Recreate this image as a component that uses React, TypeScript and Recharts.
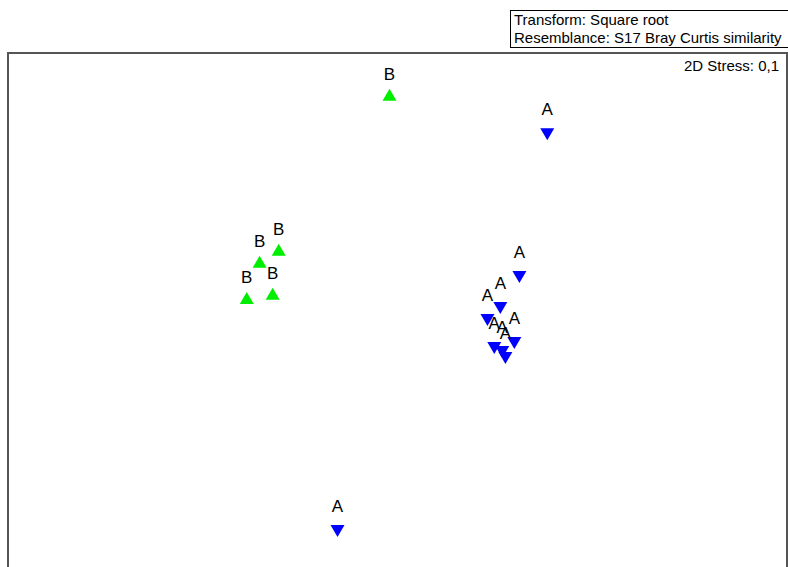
import React from "react";
import { ScatterChart, Scatter, XAxis, YAxis, ReferenceArea } from "recharts";

const groupALabel = "A";
const groupBLabel = "B";

const groupAX = [0.769, 0.626, 0.528, 0.462, 0.497, 0.6, 0.538, 0.554, -0.308];
const groupAY = [0.892, 0.155, -0.004, -0.066, -0.211, -0.185, -0.231, -0.262, -1.154];

const groupBX = [-0.041, -0.61, -0.708, -0.774, -0.641];
const groupBY = [1.074, 0.275, 0.213, 0.027, 0.048];

const legendLines = ["Transform: Square root", "Resemblance: S17 Bray Curtis similarity"];
const stressText = "2D Stress: 0,1";

const xDomain: [number, number] = [-2, 2];
const yDomain: [number, number] = [-1.391, 1.3];

const dataA = groupAX.map((x, i) => ({ x, y: groupAY[i] }));
const dataB = groupBX.map((x, i) => ({ x, y: groupBY[i] }));

const FONT = "'Liberation Sans', Arial, Helvetica, sans-serif";
const W = 14;
const H = 12;

const makeShape = (label: string, up: boolean, color: string) => (props: any) => {
  const { cx, cy } = props;
  if (cx == null || cy == null) return null;
  let d: string;
  if (up) {
    d = `M${cx - W / 2},${cy + H / 3} L${cx + W / 2},${cy + H / 3} L${cx},${cy - (2 * H) / 3} Z`;
  } else {
    d = `M${cx - W / 2},${cy - H / 3} L${cx + W / 2},${cy - H / 3} L${cx},${cy + (2 * H) / 3} Z`;
  }
  return (
    <g>
      <path d={d} fill={color} stroke="none" />
      <text x={cx} y={cy - 17} textAnchor="middle" fontSize={17} fontFamily={FONT} fill="#000">
        {label}
      </text>
    </g>
  );
};

export default function App() {
  return (
    <div
      style={{
        position: "fixed",
        left: 0,
        top: 0,
        width: 788,
        height: 567,
        overflow: "hidden",
        background: "#fff",
      }}
    >
      <ScatterChart width={788} height={600} margin={{ top: 53, left: 8, right: 1, bottom: 25 }}>
        <XAxis type="number" dataKey="x" domain={xDomain} hide allowDataOverflow />
        <YAxis type="number" dataKey="y" domain={yDomain} hide allowDataOverflow />
        <ReferenceArea
          x1={xDomain[0]}
          x2={xDomain[1]}
          y1={yDomain[0]}
          y2={yDomain[1]}
          fill="none"
          stroke="#555"
          strokeWidth={2}
          ifOverflow="visible"
        />
        <Scatter data={dataB} isAnimationActive={false} shape={makeShape(groupBLabel, true, "#00ee00")} />
        <Scatter data={dataA} isAnimationActive={false} shape={makeShape(groupALabel, false, "#0000ff")} />
      </ScatterChart>
      <div
        style={{
          position: "absolute",
          left: 510,
          top: 10,
          width: 274,
          height: 36,
          border: "1px solid #000",
          fontFamily: FONT,
          fontSize: 15,
          lineHeight: "18px",
          paddingLeft: 3,
          boxSizing: "content-box",
          color: "#000",
          whiteSpace: "nowrap",
        }}
      >
        {legendLines.map((l) => (
          <div key={l}>{l}</div>
        ))}
      </div>
      <div
        style={{
          position: "absolute",
          right: 9,
          top: 57,
          fontFamily: FONT,
          fontSize: 15,
          lineHeight: "17px",
          color: "#000",
          whiteSpace: "nowrap",
        }}
      >
        {stressText}
      </div>
    </div>
  );
}
